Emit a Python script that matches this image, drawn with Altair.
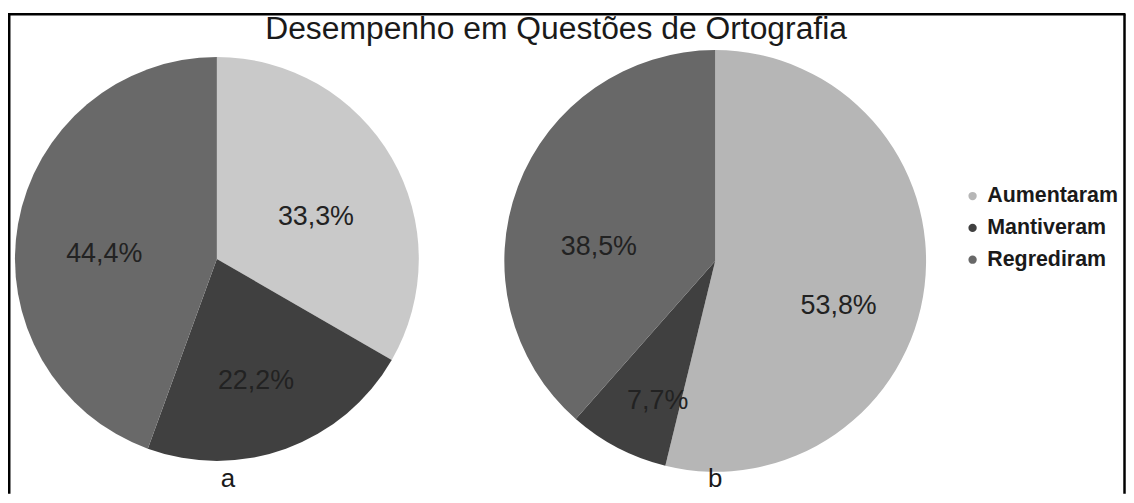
import altair as alt
import pandas as pd

# ---- data ----
categories = ["Aumentaram", "Mantiveram", "Regrediram"]
values_a = [33.3, 22.2, 44.4]
values_b = [53.8, 7.7, 38.5]
labels_a = ["33,3%", "22,2%", "44,4%"]
labels_b = ["53,8%", "7,7%", "38,5%"]
pie_names = ["a", "b"]
chart_title = ["Desempenho em Questões de Ortografia"]

# ---- styles ----
colors_a = ["#c9c9c9", "#404040", "#696969"]
colors_b = ["#b6b6b6", "#404040", "#686868"]
FONT = "Liberation Sans"
W, H = 1124, 487


def pie_df(values, labels):
    return pd.DataFrame({"cat": categories, "val": values, "label": labels,
                         "ord": list(range(len(categories)))})


def pie(values, labels, cx, cy, r, lr, ldy, colors, legend):
    base = alt.Chart(pie_df(values, labels)).encode(
        theta=alt.Theta("val:Q", stack=True),
        order=alt.Order("ord:Q"),
    )
    arc = base.mark_arc(outerRadius=r, stroke=None).encode(
        x=alt.value(cx), y=alt.value(cy),
        color=alt.Color("cat:N", scale=alt.Scale(domain=categories, range=colors),
                        legend=legend),
    )
    txt = base.mark_text(radius=lr, dy=ldy, font=FONT, fontSize=27,
                         color="#222222").encode(
        x=alt.value(cx), y=alt.value(cy), text="label:N",
    )
    return arc, txt


legend_b = alt.Legend(
    title=None, orient="none", legendX=959, legendY=177,
    symbolType="circle", symbolSize=70, symbolStrokeWidth=0,
    labelFont=FONT, labelFontSize=21.5, labelFontWeight="bold", labelColor="#1a1a1a",
    labelOffset=4, rowPadding=9, padding=0,
)

arc_a, txt_a = pie(values_a, labels_a, 210, 251, 203, 115, 15, colors_a, None)
arc_b, txt_b = pie(values_b, labels_b, 711, 253, 212, 125, 30, colors_b, legend_b)

one = pd.DataFrame({"k": [0]})
border_top = alt.Chart(one).mark_rule(color="black", strokeWidth=2.5).encode(
    x=alt.value(0), x2=alt.value(W - 0.5), y=alt.value(5))
border_left = alt.Chart(one).mark_rule(color="black", strokeWidth=2.5).encode(
    x=alt.value(1.25), y=alt.value(5), y2=alt.value(H))
border_right = alt.Chart(one).mark_rule(color="black", strokeWidth=2.5).encode(
    x=alt.value(W - 1.5), y=alt.value(5), y2=alt.value(H))

title_txt = alt.Chart(pd.DataFrame({"t": chart_title})).mark_text(
    font=FONT, fontSize=32, color="#1a1a1a", baseline="alphabetic").encode(
    x=alt.value(551), y=alt.value(30), text="t:N")

name_a = alt.Chart(pd.DataFrame({"t": [pie_names[0]]})).mark_text(
    font=FONT, fontSize=26, color="#1a1a1a", baseline="alphabetic").encode(
    x=alt.value(221), y=alt.value(480), text="t:N")
name_b = alt.Chart(pd.DataFrame({"t": [pie_names[1]]})).mark_text(
    font=FONT, fontSize=26, color="#1a1a1a", baseline="alphabetic").encode(
    x=alt.value(711), y=alt.value(480), text="t:N")

chart = alt.layer(
    arc_a, txt_a, arc_b, txt_b, border_top, border_left, border_right,
    title_txt, name_a, name_b,
).resolve_scale(color="independent", theta="independent").properties(
    width=W, height=H, padding=0, autosize=alt.AutoSizeParams(type="none"),
    background="white",
).configure_view(stroke=None)

chart.save("out.html", embed_options={"renderer": "svg", "actions": False})
